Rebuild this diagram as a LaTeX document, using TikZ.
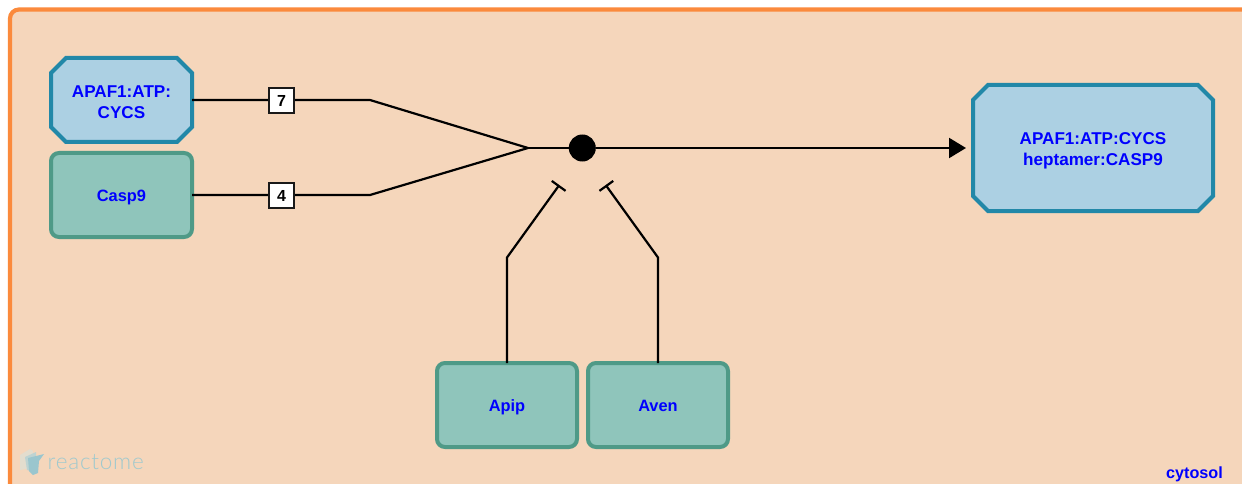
\documentclass[tikz,border=0pt]{standalone}
\usepackage{fontspec}
\setmainfont{Liberation Sans}
\newfontfamily\logofont[LetterSpace=3.5]{Lato Light}
\usetikzlibrary{shapes.misc,arrows.meta}
\definecolor{compfill}{HTML}{F5D6BB}
\definecolor{compline}{HTML}{FB8A3C}
\definecolor{cplxfill}{HTML}{ACD0E3}
\definecolor{cplxline}{HTML}{2288A8}
\definecolor{protfill}{HTML}{8FC5BB}
\definecolor{protline}{HTML}{4F9A87}
\definecolor{logotext}{HTML}{9FC9CE}
\definecolor{logoa}{HTML}{E3DDCE}
\definecolor{logob}{HTML}{BDD3D2}
\definecolor{logoc}{HTML}{9AC6CE}
\newcommand{\toplift}[1]{\rule{0pt}{#1}}
\tikzset{
  x=1pt,y=-1pt,
  cplx/.style={text=blue,align=center,
    font=\fontsize{17.1}{21}\selectfont\bfseries,chamfered rectangle,chamfered rectangle xsep=7.5pt,chamfered rectangle ysep=7.5pt,
    draw=cplxline,fill=cplxfill,line width=4pt,outer sep=0pt,inner sep=0pt},
  prot/.style={text=blue,align=center,execute at begin node={\rule{0pt}{17pt}},
    execute at end node={\rule[-4pt]{0pt}{4pt}},
    font=\fontsize{16.4}{21}\selectfont\bfseries,rectangle,rounded corners=8pt,draw=protline,fill=protfill,line width=4pt,
    minimum width=140pt,minimum height=84pt,outer sep=0pt,inner sep=0pt},
  badge/.style={rectangle,draw=black!90,fill=white,line width=2pt,minimum size=25pt,inner sep=0pt,outer sep=0pt,
    font=\fontsize{16}{16}\selectfont\bfseries},
  conn/.style={line width=2.2pt,black},
  inhib/.style={conn,-{Bar[width=17pt,length=0pt,line width=2.2pt]}},
}
\begin{document}
\begin{tikzpicture}
\useasboundingbox (0,0) rectangle (1242,484);
\fill[white] (0,0) rectangle (1242,484);
% compartment
\path[fill=compfill,draw=compline,line width=4.2pt,rounded corners=9pt]
  (10,500) -- (10,9.5) -- (1270,9.5) -- (1270,500) -- cycle;
% logo
\fill[logoa] (20,455) -- (30,449) -- (33,451) -- (33,468) -- (20,470) -- cycle;
\fill[logob] (25,457) -- (36,452) -- (37,472) -- (27,470) -- cycle;
\fill[logoc] (28,458) -- (44,454) -- (39,461) -- (38,473) -- (33,475) -- (29,471) -- cycle;
\node[anchor=base west,inner sep=0pt,text=logotext] (logo) at (47.5,469.5) {\logofont\fontsize{22.5}{22.5}\selectfont reactome};
% entities
\node[cplx,minimum width=141pt,minimum height=84pt] (apaf) at (121.5,100) {\toplift{16pt}APAF1:ATP:\\CYCS};
\node[prot,minimum width=141pt] (casp) at (121.5,195) {Casp9};
\node[cplx,minimum width=240pt,minimum height=126pt] (hept) at (1093,148) {\toplift{17pt}APAF1:ATP:CYCS\\heptamer:CASP9};
\node[prot] (apip) at (507,405) {Apip};
\node[prot] (aven) at (658,405) {Aven};
% routing points
\coordinate (bendA) at (370,100);
\coordinate (bendC) at (370,195);
\coordinate (merge) at (528,148);
\node[circle,fill=black,minimum size=27pt,inner sep=0pt,outer sep=0pt] (dot) at (582.3,148) {};
\coordinate (bendP) at (507,257.5);
\coordinate (endP) at (559.3,185);
\coordinate (bendV) at (658,257.5);
\coordinate (endV) at (605.7,185);
% connectors
\draw[conn,line join=miter] (apaf.east) -- (bendA) -- (merge);
\draw[conn,line join=miter] (casp.east) -- (bendC) -- (merge);
\draw[conn] (merge) -- (dot);
\draw[conn,-{Triangle[length=17pt,width=20pt]},shorten >=7pt] (dot) -- (hept.west);
\draw[inhib] (apip.north) -- (bendP) -- (endP);
\draw[inhib] (aven.north) -- (bendV) -- (endV);
% stoichiometry
\node[badge] (n7) at (281.5,100.5) {7};
\node[badge] (n4) at (281.5,195.5) {4};
% compartment label
\node[anchor=base east,inner sep=0pt,text=blue,font=\fontsize{16.2}{16}\selectfont\bfseries] (cyt) at (1223,478) {cytosol};
\end{tikzpicture}
\end{document}
